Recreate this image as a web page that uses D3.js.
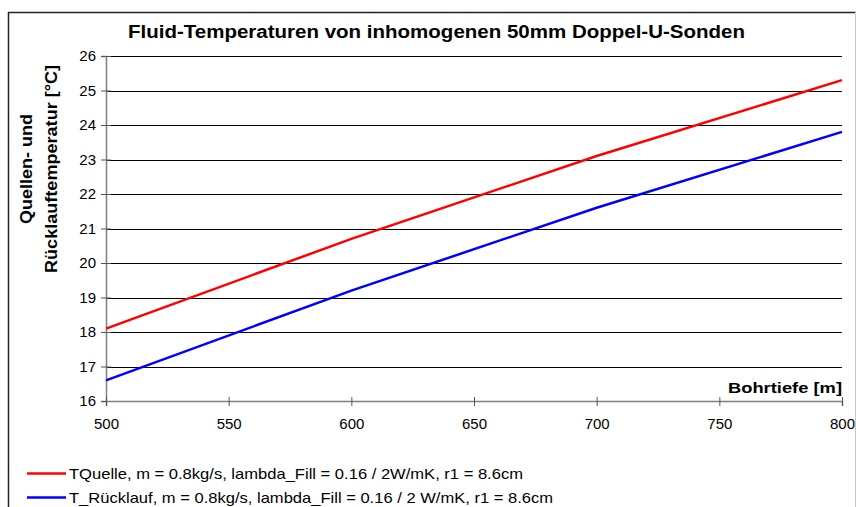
<!DOCTYPE html>
<html>
<head>
<meta charset="utf-8">
<script src="https://cdn.jsdelivr.net/npm/d3@7"></script>
<style>
  html, body { margin: 0; padding: 0; background: #fff; }
  svg { display: block; font-family: "Liberation Sans", Arial, sans-serif; }
</style>
</head>
<body>
<svg id="chart" width="856" height="507"></svg>
<script>
// Bohrtiefe (m) and fluid temperatures (°C)
const depths = [500, 600, 700, 800];
const tQuelle = [18.1, 20.7, 23.1, 25.3];
const tRuecklauf = [16.6, 19.2, 21.6, 23.8];
const xTicks = [500, 550, 600, 650, 700, 750, 800];
const yTicks = [16, 17, 18, 19, 20, 21, 22, 23, 24, 25, 26];
const seriesNames = [
  "TQuelle, m = 0.8kg/s, lambda_Fill = 0.16 / 2W/mK, r1 = 8.6cm",
  "T_Rücklauf, m = 0.8kg/s, lambda_Fill = 0.16 / 2 W/mK, r1 = 8.6cm"
];
const seriesColors = ["#ff0000", "#0000ff"];
const legendWidths = [454, 484];

const svg = d3.select("#chart");

// outer frame
svg.append("line").attr("x1", 8.5).attr("x2", 8.5).attr("y1", 12).attr("y2", 507)
  .attr("stroke", "#222").attr("stroke-width", 1.5);
svg.append("line").attr("x1", 8).attr("x2", 856).attr("y1", 12.5).attr("y2", 12.5)
  .attr("stroke", "#222").attr("stroke-width", 1.5);
svg.append("line").attr("x1", 855.5).attr("x2", 855.5).attr("y1", 12).attr("y2", 507)
  .attr("stroke", "#c8c8c8").attr("stroke-width", 1);

const x = d3.scaleLinear().domain([500, 800]).range([106, 842]);
const y = d3.scaleLinear().domain([16, 26]).range([401, 56]);

// horizontal gridlines
svg.append("g").selectAll("line").data(yTicks.slice(1)).join("line")
  .attr("x1", x(500)).attr("x2", x(800))
  .attr("y1", d => Math.round(y(d)) + 0.5).attr("y2", d => Math.round(y(d)) + 0.5)
  .attr("stroke", "#000").attr("stroke-width", 1);

// y axis
const yAxis = d3.axisLeft(y).tickValues(yTicks).tickSize(5).tickPadding(5)
  .tickFormat(d3.format("d"));
const gy = svg.append("g").attr("transform", `translate(${x(500)},0)`).call(yAxis);
gy.select(".domain").attr("stroke", "#808080").attr("stroke-width", 1.5);
gy.selectAll(".tick line").attr("stroke", "#555").attr("x2", 5).attr("x1", -5);
gy.selectAll(".tick text").attr("font-size", 15).attr("fill", "#000")
  .attr("font-family", "Liberation Sans, Arial, sans-serif");

// x axis
const xAxis = d3.axisBottom(x).tickValues(xTicks).tickSize(5).tickPadding(12)
  .tickFormat(d3.format("d"));
const gx = svg.append("g").attr("transform", `translate(0,${y(16)})`).call(xAxis);
gx.select(".domain").attr("stroke", "#808080").attr("stroke-width", 1.5);
gx.selectAll(".tick line").attr("stroke", "#555").attr("y1", -4).attr("y2", 5);
gx.selectAll(".tick text").attr("font-size", 15).attr("fill", "#000")
  .attr("font-family", "Liberation Sans, Arial, sans-serif");

// series lines
const line = d3.line().x((d, i) => x(depths[i])).y(d => y(d));
[tQuelle, tRuecklauf].forEach((vals, i) => {
  svg.append("path").datum(vals).attr("d", line)
    .attr("fill", "none").attr("stroke", seriesColors[i]).attr("stroke-width", 2.5);
});

// title
svg.append("text").attr("x", 436.5).attr("y", 38).attr("text-anchor", "middle")
  .attr("font-size", 18).attr("font-weight", "bold")
  .attr("textLength", 617).attr("lengthAdjust", "spacingAndGlyphs")
  .text("Fluid-Temperaturen von inhomogenen 50mm Doppel-U-Sonden");

// y axis title (two lines)
const yt = svg.append("text").attr("transform", "translate(0,169) rotate(-90)")
  .attr("text-anchor", "middle").attr("font-size", 16).attr("font-weight", "bold");
yt.append("tspan").attr("x", 0).attr("y", 32)
  .attr("textLength", 110).attr("lengthAdjust", "spacingAndGlyphs").text("Quellen- und");
yt.append("tspan").attr("x", 0).attr("y", 57)
  .attr("textLength", 208).attr("lengthAdjust", "spacingAndGlyphs").text("Rücklauftemperatur [°C]");

// x axis title
svg.append("text").attr("x", 842).attr("y", 393).attr("text-anchor", "end")
  .attr("font-size", 15.5).attr("font-weight", "bold")
  .attr("textLength", 114).attr("lengthAdjust", "spacingAndGlyphs").text("Bohrtiefe [m]");

// legend
const lg = svg.append("g").selectAll("g").data(seriesNames).join("g")
  .attr("transform", (d, i) => `translate(27,${473.5 + i * 24})`);
lg.append("line").attr("x1", 0).attr("x2", 39).attr("stroke", (d, i) => seriesColors[i]).attr("stroke-width", 2.5);
lg.append("text").attr("x", 42).attr("y", 2.5 + 0).attr("dy", "0.18em").attr("font-size", 15)
  .attr("textLength", (d, i) => legendWidths[i]).attr("lengthAdjust", "spacingAndGlyphs")
  .text(d => d);
</script>
</body>
</html>
